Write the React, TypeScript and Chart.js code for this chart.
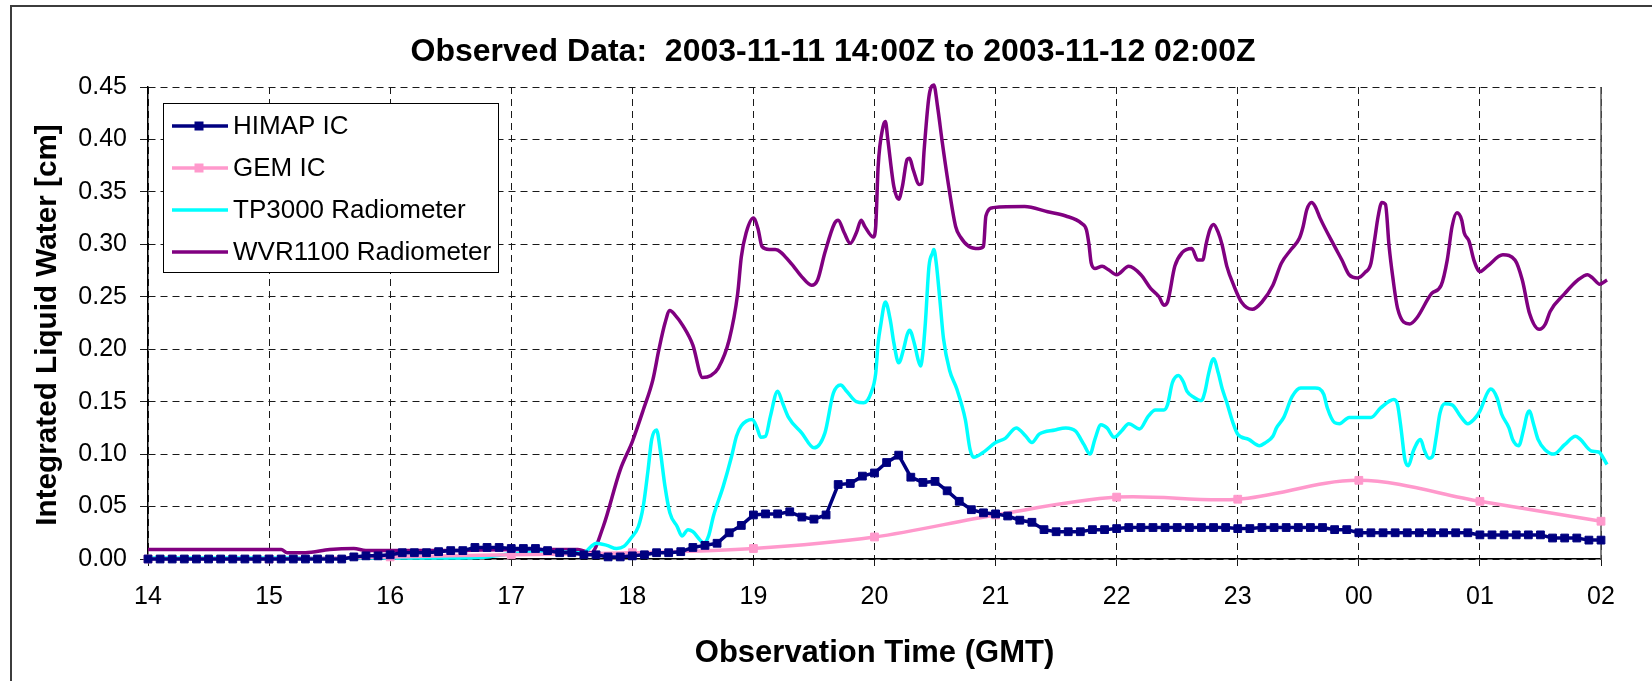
import { useEffect, useRef } from 'react';
import { Chart, registerables } from 'chart.js';

Chart.register(...registerables);

const FONT = '"Liberation Sans", Arial, sans-serif';

const chartTitle = 'Observed Data:  2003-11-11 14:00Z to 2003-11-12 02:00Z';
const xAxisTitle = 'Observation Time (GMT)';
const yAxisTitle = 'Integrated Liquid Water [cm]';
const hourTickLabels = ['14', '15', '16', '17', '18', '19', '20', '21', '22', '23', '00', '01', '02'];
const seriesNames = ['HIMAP IC', 'GEM IC', 'TP3000 Radiometer', 'WVR1100 Radiometer'];
const seriesColors = ['#000080', '#FF99CC', '#00FFFF', '#800080'];

// HIMAP IC: one value every 6 minutes from 14:00 to 02:00
const himapStartHour = 14;
const himapStepHour = 0.1;
const himapValues = [
  0, 0, 0, 0, 0, 0, 0, 0, 0, 0,
  0, 0, 0, 0, 0, 0, 0, 0.002, 0.003, 0.003,
  0.004, 0.006, 0.006, 0.006, 0.007, 0.008, 0.008, 0.011, 0.011, 0.011,
  0.010, 0.010, 0.010, 0.008, 0.006, 0.006, 0.004, 0.004, 0.002, 0.002,
  0.003, 0.004, 0.006, 0.006, 0.007, 0.011, 0.013, 0.015, 0.025, 0.032,
  0.042, 0.043, 0.043, 0.045, 0.040, 0.038, 0.042, 0.071, 0.072, 0.079,
  0.082, 0.092, 0.099, 0.078, 0.073, 0.074, 0.065, 0.055, 0.047, 0.044,
  0.043, 0.041, 0.037, 0.035, 0.028, 0.026, 0.026, 0.026, 0.028, 0.028,
  0.029, 0.030, 0.030, 0.030, 0.030, 0.030, 0.030, 0.030, 0.030, 0.030,
  0.029, 0.029, 0.030, 0.030, 0.030, 0.030, 0.030, 0.030, 0.028, 0.028,
  0.025, 0.025, 0.025, 0.025, 0.025, 0.025, 0.025, 0.025, 0.025, 0.025,
  0.023, 0.023, 0.023, 0.023, 0.023, 0.023, 0.020, 0.020, 0.020, 0.018,
  0.018,
];

// GEM IC: hourly
const gemHours = [14, 15, 16, 17, 18, 19, 20, 21, 22, 23, 24, 25, 26];
const gemValues = [0.0, 0.0, 0.002, 0.004, 0.006, 0.010, 0.021, 0.042, 0.059, 0.057, 0.075, 0.055, 0.036];

// TP3000 Radiometer
const tp3000Hours = [
  14.0, 15.0, 16.0, 16.5, 16.8, 17.0, 17.3, 17.6, 17.66, 17.7, 17.79, 17.87, 17.93, 17.99,
  18.05, 18.09, 18.13, 18.16, 18.2, 18.23, 18.27, 18.31, 18.37, 18.41, 18.46, 18.5, 18.56, 18.59,
  18.63, 18.67, 18.75, 18.82, 18.86, 18.9, 18.99, 19.03, 19.06, 19.1, 19.14, 19.2, 19.24, 19.29,
  19.4, 19.5, 19.59, 19.66, 19.72, 19.77, 19.85, 19.91, 19.97, 20.01, 20.03, 20.05, 20.09, 20.13,
  20.16, 20.2, 20.24, 20.27, 20.29, 20.33, 20.36, 20.38, 20.4, 20.42, 20.45, 20.48, 20.49, 20.51,
  20.54, 20.57, 20.62, 20.68, 20.75, 20.79, 20.82, 20.89, 21.0, 21.08, 21.17, 21.25, 21.3, 21.36,
  21.49, 21.58, 21.66, 21.73, 21.78, 21.82, 21.87, 21.92, 21.98, 22.04, 22.1, 22.19, 22.26, 22.32,
  22.39, 22.42, 22.46, 22.51, 22.55, 22.58, 22.64, 22.7, 22.73, 22.76, 22.8, 22.84, 22.87, 22.91,
  22.96, 23.0, 23.09, 23.18, 23.23, 23.29, 23.32, 23.38, 23.45, 23.52, 23.64, 23.71, 23.74, 23.8,
  23.84, 23.92, 24.1, 24.18, 24.29, 24.32, 24.35, 24.38, 24.41, 24.45, 24.51, 24.54, 24.58, 24.61,
  24.64, 24.67, 24.71, 24.77, 24.84, 24.9, 24.95, 25.0, 25.06, 25.09, 25.14, 25.18, 25.24, 25.27,
  25.32, 25.36, 25.39, 25.41, 25.44, 25.48, 25.54, 25.61, 25.7, 25.79, 25.83, 25.92, 25.98, 26.05,
];
const tp3000Values = [
  0.001, 0.001, 0.001, 0.001, 0.002, 0.005, 0.007, 0.006, 0.012, 0.015, 0.013, 0.010, 0.012, 0.020,
  0.031, 0.050, 0.085, 0.114, 0.123, 0.104, 0.069, 0.044, 0.031, 0.022, 0.028, 0.026, 0.018, 0.015,
  0.022, 0.041, 0.069, 0.098, 0.117, 0.127, 0.133, 0.125, 0.116, 0.117, 0.136, 0.160, 0.149, 0.135,
  0.120, 0.106, 0.120, 0.158, 0.166, 0.160, 0.150, 0.149, 0.158, 0.177, 0.206, 0.222, 0.245, 0.228,
  0.206, 0.187, 0.200, 0.214, 0.218, 0.205, 0.190, 0.184, 0.197, 0.225, 0.279, 0.292, 0.295, 0.282,
  0.247, 0.210, 0.180, 0.162, 0.133, 0.104, 0.097, 0.101, 0.111, 0.115, 0.125, 0.117, 0.111, 0.119,
  0.123, 0.125, 0.122, 0.109, 0.100, 0.114, 0.128, 0.125, 0.116, 0.122, 0.129, 0.124, 0.136, 0.142,
  0.142, 0.147, 0.168, 0.175, 0.169, 0.160, 0.154, 0.151, 0.160, 0.177, 0.191, 0.177, 0.163, 0.149,
  0.130, 0.119, 0.114, 0.108, 0.111, 0.117, 0.125, 0.135, 0.155, 0.163, 0.163, 0.157, 0.144, 0.130,
  0.129, 0.135, 0.135, 0.144, 0.152, 0.147, 0.123, 0.095, 0.089, 0.103, 0.114, 0.104, 0.096, 0.098,
  0.117, 0.139, 0.148, 0.147, 0.136, 0.129, 0.133, 0.141, 0.158, 0.162, 0.154, 0.138, 0.125, 0.114,
  0.108, 0.123, 0.138, 0.141, 0.130, 0.114, 0.104, 0.100, 0.109, 0.117, 0.114, 0.103, 0.102, 0.090,
];

// WVR1100 Radiometer
const wvr1100Hours = [
  14.0, 15.1, 15.15, 15.3, 15.5, 15.7, 15.8, 16.0, 16.5, 17.0, 17.55, 17.66, 17.76, 17.9,
  18.0, 18.09, 18.17, 18.22, 18.27, 18.31, 18.35, 18.42, 18.5, 18.58, 18.65, 18.71, 18.8, 18.87,
  18.9, 18.94, 19.0, 19.04, 19.07, 19.13, 19.18, 19.31, 19.4, 19.48, 19.53, 19.59, 19.67, 19.7,
  19.75, 19.8, 19.85, 19.89, 19.92, 19.99, 20.01, 20.03, 20.07, 20.09, 20.11, 20.16, 20.2, 20.23,
  20.27, 20.29, 20.32, 20.37, 20.39, 20.41, 20.45, 20.49, 20.52, 20.56, 20.6, 20.67, 20.71, 20.78,
  20.86, 20.9, 20.92, 20.98, 21.24, 21.43, 21.58, 21.71, 21.75, 21.77, 21.79, 21.82, 21.88, 21.93,
  22.0, 22.1, 22.2, 22.28, 22.35, 22.39, 22.42, 22.48, 22.54, 22.62, 22.67, 22.71, 22.74, 22.77,
  22.8, 22.84, 22.87, 22.91, 22.97, 23.03, 23.12, 23.2, 23.29, 23.36, 23.44, 23.51, 23.54, 23.57,
  23.61, 23.64, 23.68, 23.8, 23.86, 23.92, 23.99, 24.05, 24.1, 24.13, 24.16, 24.19, 24.22, 24.25,
  24.28, 24.32, 24.42, 24.48, 24.6, 24.68, 24.73, 24.77, 24.81, 24.85, 24.87, 24.91, 24.95, 25.0,
  25.06, 25.19, 25.29, 25.35, 25.41, 25.49, 25.54, 25.58, 25.7, 25.81, 25.89, 25.93, 25.99, 26.05,
];
const wvr1100Values = [
  0.009, 0.009, 0.006, 0.006, 0.009, 0.010, 0.008, 0.008, 0.008, 0.009, 0.009, 0.006, 0.031, 0.085,
  0.112, 0.142, 0.171, 0.200, 0.225, 0.237, 0.233, 0.222, 0.204, 0.173, 0.175, 0.182, 0.209, 0.253,
  0.288, 0.311, 0.325, 0.314, 0.298, 0.295, 0.295, 0.282, 0.269, 0.261, 0.266, 0.292, 0.320, 0.323,
  0.311, 0.301, 0.311, 0.323, 0.317, 0.307, 0.317, 0.374, 0.412, 0.417, 0.400, 0.355, 0.343, 0.355,
  0.381, 0.382, 0.371, 0.357, 0.358, 0.390, 0.441, 0.452, 0.432, 0.397, 0.365, 0.317, 0.307, 0.298,
  0.296, 0.298, 0.327, 0.335, 0.336, 0.331, 0.327, 0.320, 0.314, 0.301, 0.282, 0.277, 0.279, 0.276,
  0.271, 0.279, 0.271, 0.258, 0.250, 0.242, 0.245, 0.279, 0.292, 0.296, 0.285, 0.285, 0.301, 0.314,
  0.319, 0.311, 0.300, 0.279, 0.260, 0.245, 0.238, 0.245, 0.261, 0.282, 0.295, 0.306, 0.317, 0.333,
  0.340, 0.336, 0.325, 0.298, 0.285, 0.271, 0.268, 0.273, 0.282, 0.304, 0.327, 0.340, 0.338, 0.298,
  0.269, 0.239, 0.224, 0.230, 0.253, 0.261, 0.285, 0.317, 0.330, 0.323, 0.311, 0.303, 0.285, 0.274,
  0.279, 0.290, 0.285, 0.266, 0.234, 0.219, 0.224, 0.236, 0.253, 0.266, 0.271, 0.268, 0.262, 0.266,
];

const pairs = (xs: number[], ys: number[]) => ys.map((y, i) => ({ x: xs[i], y }));

const decorPlugin = {
  id: 'decor',
  beforeDatasetsDraw(chart: any) {
    const { ctx, chartArea } = chart;
    ctx.save();
    ctx.strokeStyle = '#555';
    ctx.lineWidth = 1.5;
    ctx.beginPath();
    ctx.moveTo(chartArea.right, chartArea.top);
    ctx.lineTo(chartArea.right, chartArea.bottom);
    ctx.stroke();
    ctx.restore();
  },
  afterDraw(chart: any) {
    const { ctx, chartArea } = chart;
    ctx.save();
    // outer frame
    ctx.strokeStyle = '#3c3c3c';
    ctx.lineWidth = 2;
    ctx.strokeRect(11, 6, 1700, 700);

    ctx.fillStyle = '#000';
    // title
    ctx.font = `bold 32px ${FONT}`;
    ctx.textAlign = 'center';
    ctx.textBaseline = 'alphabetic';
    ctx.fillText(chartTitle, 833, 61);
    // x title
    ctx.font = `bold 31px ${FONT}`;
    ctx.fillText(xAxisTitle, (chartArea.left + chartArea.right) / 2, 662);
    // y title
    ctx.save();
    ctx.translate(56, 325);
    ctx.rotate(-Math.PI / 2);
    ctx.font = `bold 29.7px ${FONT}`;
    ctx.fillText(yAxisTitle, 0, 0);
    ctx.restore();

    // legend
    const lx = 163, ly = 103, lw = 335, lh = 169;
    ctx.fillStyle = '#fff';
    ctx.fillRect(lx, ly, lw, lh);
    ctx.strokeStyle = '#000';
    ctx.lineWidth = 1;
    ctx.strokeRect(lx + 0.5, ly + 0.5, lw, lh);
    ctx.font = `26px ${FONT}`;
    ctx.textAlign = 'left';
    ctx.textBaseline = 'middle';
    seriesNames.forEach((name, i) => {
      const y = 126 + i * 42;
      ctx.strokeStyle = seriesColors[i];
      ctx.lineWidth = 3.5;
      ctx.beginPath();
      ctx.moveTo(172, y);
      ctx.lineTo(228, y);
      ctx.stroke();
      if (i < 2) {
        ctx.fillStyle = seriesColors[i];
        ctx.fillRect(194.5, y - 4.5, 9, 9);
      }
      ctx.fillStyle = '#000';
      ctx.fillText(name, 233, y + 1);
    });
    ctx.restore();
  },
};

export default function App() {
  const canvasRef = useRef<HTMLCanvasElement | null>(null);

  useEffect(() => {
    if (!canvasRef.current) return;
    const chart = new Chart(canvasRef.current, {
      type: 'line',
      data: {
        datasets: [
          {
            label: seriesNames[0],
            data: himapValues.map((v, i) => ({ x: himapStartHour + i * himapStepHour, y: v })),
            borderColor: seriesColors[0],
            backgroundColor: seriesColors[0],
            borderWidth: 3.5,
            pointStyle: 'rect',
            pointRadius: 5.5,
            pointBorderWidth: 1,
            pointBorderColor: seriesColors[0],
            pointBackgroundColor: seriesColors[0],
            tension: 0,
            clip: false,
          },
          {
            label: seriesNames[1],
            data: pairs(gemHours, gemValues),
            borderColor: seriesColors[1],
            backgroundColor: seriesColors[1],
            borderWidth: 3.5,
            pointStyle: 'rect',
            pointRadius: 5.5,
            pointBorderWidth: 1,
            pointBorderColor: seriesColors[1],
            pointBackgroundColor: seriesColors[1],
            tension: 0.33,
            clip: false,
          },
          {
            label: seriesNames[2],
            data: pairs(tp3000Hours, tp3000Values),
            borderColor: seriesColors[2],
            borderWidth: 3.5,
            pointRadius: 0,
            cubicInterpolationMode: 'monotone',
            clip: false,
          },
          {
            label: seriesNames[3],
            data: pairs(wvr1100Hours, wvr1100Values),
            borderColor: seriesColors[3],
            borderWidth: 3.5,
            pointRadius: 0,
            cubicInterpolationMode: 'monotone',
            clip: false,
          },
        ] as any,
      },
      options: {
        responsive: false,
        animation: false,
        devicePixelRatio: 1,
        events: [],
        layout: { padding: { top: 87, right: 51, left: 0, bottom: 0 } },
        plugins: {
          legend: { display: false },
          title: { display: false },
          tooltip: { enabled: false },
        },
        scales: {
          x: {
            type: 'linear',
            min: 14,
            max: 26,
            afterFit: (scale: any) => {
              scale.height = 122;
            },
            ticks: {
              stepSize: 1,
              autoSkip: false,
              maxRotation: 0,
              minRotation: 0,
              padding: 16,
              color: '#000',
              font: { family: FONT, size: 25 },
              callback: (v: any) => hourTickLabels[Math.round(Number(v) - 14)] ?? '',
            },
            grid: { color: '#1a1a1a', lineWidth: 1, tickLength: 7, drawTicks: true },
            border: { display: true, color: '#000', width: 1.5, dash: [7, 5] },
          },
          y: {
            type: 'linear',
            min: 0,
            max: 0.45,
            afterFit: (scale: any) => {
              scale.width = 148;
            },
            ticks: {
              stepSize: 0.05,
              padding: 13,
              color: '#000',
              font: { family: FONT, size: 25 },
              callback: (v: any) => Number(v).toFixed(2),
            },
            grid: { color: '#1a1a1a', lineWidth: 1, tickLength: 8, drawTicks: true },
            border: { display: true, color: '#000', width: 1.5, dash: [7, 5] },
          },
        },
      } as any,
      plugins: [decorPlugin],
    });
    return () => chart.destroy();
  }, []);

  return (
    <div style={{ position: 'absolute', left: 0, top: 0, width: 1652, height: 681, background: '#fff' }}>
      <canvas ref={canvasRef} width={1652} height={681} style={{ display: 'block' }} />
    </div>
  );
}
